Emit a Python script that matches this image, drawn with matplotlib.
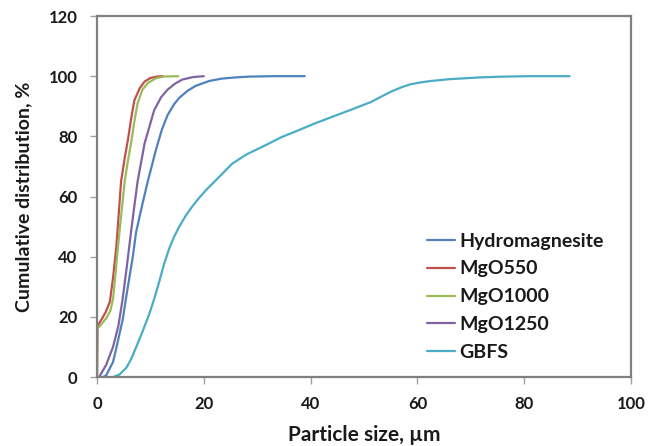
#!/usr/bin/env python3
"""Cumulative particle size distribution of hydromagnesite, MgO grades and GBFS."""

import matplotlib
matplotlib.use("Agg")
import matplotlib.pyplot as plt

# particle size (um) vs cumulative distribution (%)
HYDRO_X = [1.1, 1.7, 3.0, 3.6, 4.8, 5.5, 6.7, 7.3, 8.5, 9.5, 11.0, 12.1, 13.2, 14.4, 15.4, 17.0, 18.5, 21.0, 23.4, 26.0, 28.4, 33.0, 38.9]
HYDRO_Y = [0.0, 0.5, 5.0, 9.5, 19.0, 27.0, 40.0, 48.0, 57.5, 65.0, 75.3, 82.0, 87.0, 90.6, 92.8, 95.2, 96.8, 98.4, 99.2, 99.6, 99.85, 100.0, 100.0]

MGO550_X = [0.0, 0.1, 0.8, 1.6, 2.4, 3.0, 3.6, 4.1, 4.5, 5.2, 5.8, 6.4, 7.0, 8.0, 8.9, 10.0, 11.3, 12.3]
MGO550_Y = [0.0, 17.0, 19.0, 21.5, 25.0, 33.0, 43.0, 55.0, 65.0, 73.0, 79.0, 86.0, 92.0, 96.0, 98.2, 99.4, 99.9, 100.0]

MGO1000_X = [0.0, 0.05, 0.8, 1.7, 2.5, 3.0, 3.5, 3.9, 4.6, 5.2, 5.8, 6.4, 7.0, 7.6, 8.5, 9.5, 11.0, 12.6, 15.2]
MGO1000_Y = [0.0, 16.0, 17.5, 19.5, 22.0, 26.0, 35.0, 43.0, 55.0, 65.3, 72.0, 78.0, 85.0, 91.0, 95.5, 97.7, 99.3, 99.9, 100.0]

MGO1250_X = [0.4, 1.7, 3.0, 4.0, 4.8, 5.6, 6.4, 7.0, 7.6, 8.9, 10.7, 12.0, 13.2, 14.6, 16.0, 18.0, 20.0]
MGO1250_Y = [0.0, 4.0, 10.0, 17.0, 26.0, 37.0, 48.7, 57.0, 65.0, 77.6, 88.7, 93.0, 95.5, 97.5, 98.9, 99.7, 100.0]

GBFS_X = [3.0, 4.2, 5.5, 6.4, 7.3, 8.5, 9.8, 10.8, 11.7, 12.6, 13.5, 14.4, 15.4, 16.6, 17.8, 19.1, 20.5, 22.2, 25.3, 28.0,
          31.5, 34.5, 37.7, 40.8, 43.9, 47.5, 51.3, 53.0, 55.0, 57.0, 58.7, 60.5, 62.5, 66.0, 71.7, 76.0, 81.0, 88.5]
GBFS_Y = [0.0, 0.8, 3.1, 6.0, 9.8, 15.0, 21.0, 26.5, 32.0, 37.8, 42.6, 46.5, 50.0, 53.6, 56.6, 59.5, 62.3, 65.3, 70.9, 74.0,
          77.0, 79.7, 82.0, 84.3, 86.4, 88.8, 91.4, 93.0, 94.8, 96.3, 97.3, 97.9, 98.4, 99.0, 99.6, 99.85, 100.0, 100.0]

SERIES = [
    ("Hydromagnesite", HYDRO_X, HYDRO_Y, "#4F81BD"),
    ("MgO550", MGO550_X, MGO550_Y, "#C0504D"),
    ("MgO1000", MGO1000_X, MGO1000_Y, "#9BBB59"),
    ("MgO1250", MGO1250_X, MGO1250_Y, "#8064A2"),
    ("GBFS", GBFS_X, GBFS_Y, "#4BACC6"),
]

X_TICKS = [0, 20, 40, 60, 80, 100]
Y_TICKS = [0, 20, 40, 60, 80, 100, 120]


def main() -> None:
    plt.rcParams["font.family"] = ["Lato", "DejaVu Sans"]
    plt.rcParams["font.weight"] = "bold"

    fig = plt.figure(figsize=(6.49, 4.46), dpi=100)
    ax = fig.add_axes([0.1495, 0.1547, 0.8228, 0.8094])

    for label, xs, ys, color in SERIES:
        ax.plot(xs, ys, "-", color=color, linewidth=1.6, label=label,
                solid_capstyle="round", solid_joinstyle="round")

    ax.set_xlim(0, 100)
    ax.set_ylim(0, 120)
    ax.set_xticks(X_TICKS)
    ax.set_yticks(Y_TICKS)
    ax.tick_params(direction="out", length=5, width=1, color="#A0A0A0",
                   labelsize=12, labelcolor="#1a1a1a", pad=9)
    for lab in ax.get_xticklabels() + ax.get_yticklabels():
        lab.set_fontweight("bold")
    for sp in ax.spines.values():
        sp.set_color("#808080")
        sp.set_linewidth(1.6)

    ax.set_xlabel("Particle size, \u00b5m", fontsize=15, fontweight="bold",
                  color="#1a1a1a", labelpad=9)
    ax.set_ylabel("Cumulative distribution, %", fontsize=14, fontweight="bold",
                  color="#1a1a1a", labelpad=12)

    leg = ax.legend(loc="upper left", bbox_to_anchor=(0.618, 0.40),
                    frameon=False, fontsize=14, handlelength=1.45,
                    handletextpad=0.2, labelspacing=0.56, borderpad=0,
                    borderaxespad=0)
    for t in leg.get_texts():
        t.set_fontweight("bold")
        t.set_color("#1a1a1a")

    fig.savefig("out.png", dpi=100)


if __name__ == "__main__":
    main()
